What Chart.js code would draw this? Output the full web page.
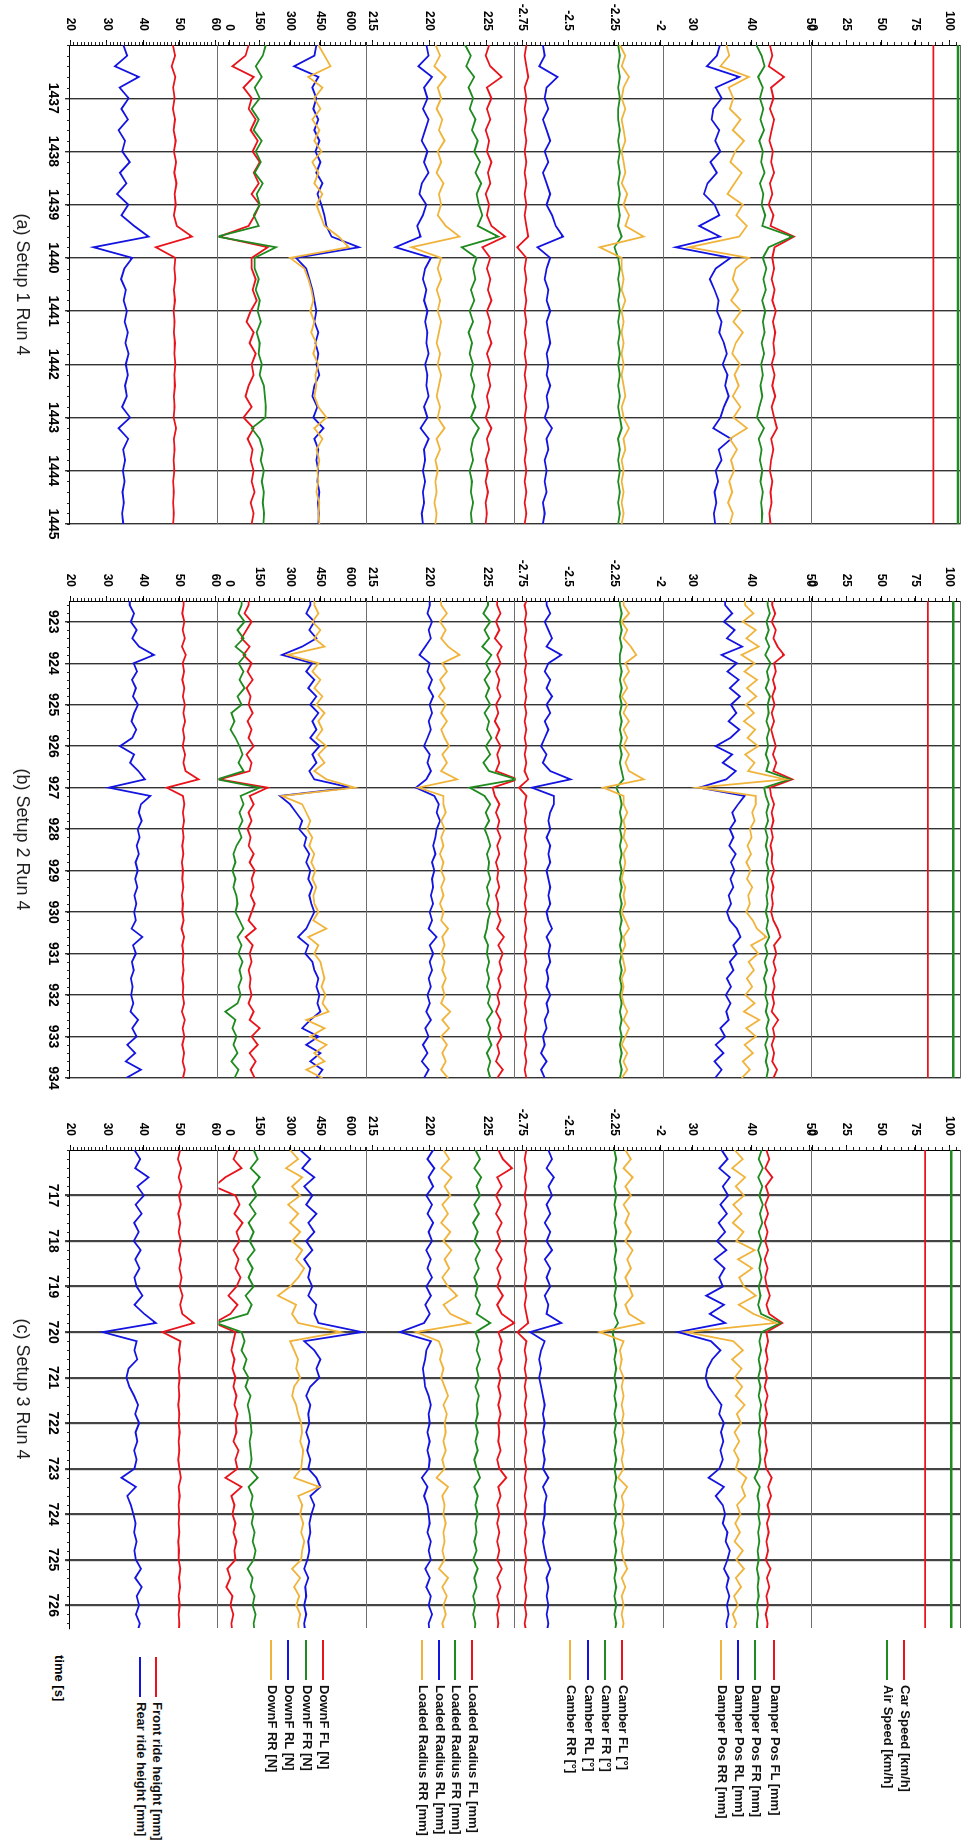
<!DOCTYPE html>
<html>
<head>
<meta charset="utf-8">
<title>Setup runs</title>
<script src="https://cdn.jsdelivr.net/npm/chart.js@4.4.1/dist/chart.umd.min.js"></script>
<style>
  html, body { margin: 0; padding: 0; background: #fff; }
  body { width: 977px; height: 1843px; position: relative; overflow: hidden; font-family: "Liberation Sans", Arial, sans-serif; }
  /* the chart is laid out landscape and turned a quarter clockwise */
  #sheet { position: absolute; left: 0; top: 0; width: 1843px; height: 977px; transform-origin: 0 0; transform: translate(977px, 0) rotate(90deg); }
  .panel { position: absolute; top: 0; }
  .caption { position: absolute; top: 944px; font-size: 18px; color: #222; text-align: center; white-space: nowrap; }
  .lg { position: absolute; height: 16px; line-height: 16px; font-size: 13px; font-weight: bold; color: #111; white-space: nowrap; }
  .lg i { display: inline-block; width: 40px; height: 2px; vertical-align: middle; margin-right: 5px; }
  #timeLabel { position: absolute; left: 1655px; top: 910px; font-size: 13px; font-weight: bold; }
</style>
</head>
<body>
<div id="sheet">
  <div class="panel" style="left:0px"><canvas id="ca" width="546" height="977"></canvas></div>
  <div class="panel" style="left:556px"><canvas id="cb" width="544" height="977"></canvas></div>
  <div class="panel" style="left:1105px"><canvas id="cc" width="545" height="977"></canvas></div>
  <div class="caption" style="left:45px;width:479px">(a) Setup 1 Run 4</div>
  <div class="caption" style="left:601px;width:477px">(b) Setup 2 Run 4</div>
  <div class="caption" style="left:1150px;width:478px">(c) Setup 3 Run 4</div>
  <div id="timeLabel">time [s]</div>
  <div id="legend"></div>
</div>
<script>
// ---- time bases (s) ----
const timeA = [1436,1436.2,1436.4,1436.6,1436.8,1437,1437.2,1437.4,1437.6,1437.8,
  1438,1438.2,1438.4,1438.6,1438.8,1439,1439.2,1439.4,1439.6,1439.8,
  1440,1440.2,1440.4,1440.6,1440.8,1441,1441.2,1441.4,1441.6,1441.8,
  1442,1442.2,1442.4,1442.6,1442.8,1443,1443.2,1443.4,1443.6,1443.8,
  1444,1444.2,1444.4,1444.6,1444.8,1445];
const timeB = [922.5,922.6,922.8,923,923.2,923.4,923.6,923.8,924,924.2,
  924.4,924.6,924.8,925,925.2,925.4,925.6,925.8,926,926.2,
  926.4,926.6,926.8,927,927.2,927.4,927.6,927.8,928,928.2,
  928.4,928.6,928.8,929,929.2,929.4,929.6,929.8,930,930.2,
  930.4,930.6,930.8,931,931.2,931.4,931.6,931.8,932,932.2,
  932.4,932.6,932.8,933,933.2,933.4,933.6,933.8,934];
const timeC = [716,716.2,716.4,716.6,716.8,717,717.2,717.4,717.6,717.8,
  718,718.2,718.4,718.6,718.8,719,719.2,719.4,719.6,719.8,
  720,720.2,720.4,720.6,720.8,721,721.2,721.4,721.6,721.8,
  722,722.2,722.4,722.6,722.8,723,723.2,723.4,723.6,723.8,
  724,724.2,724.4,724.6,724.8,725,725.2,725.4,725.6,725.8,
  726,726.2,726.4,726.6];

const ticksA = [1437,1438,1439,1440,1441,1442,1443,1444,1445];
const ticksB = [923,924,925,926,927,928,929,930,931,932,933,934];
const ticksC = [717,718,719,720,721,722,723,724,725,726];

// ---- value axis tick labels ----
const speedTicks = [0, 25, 50, 75, 100];
const damperTicks = [30, 40, 50];
const camberTicks = [-2.75, -2.5, -2.25, -2];
const radiusTicks = [215, 220, 225];
const downTicks = [0, 150, 300, 450, 600];
const rideTicks = [20, 30, 40, 50, 60];

// ---- setup 1 ----
const carSpeedA = [88,88,88,88,88,88,88,88,88,88,88,88,88,88,88,88,88,88,88,88,88,88,88,88,88,88,88,88,88,88,88,88,88,88,88,88,88,88,88,88,88,88,88,88,88,88];
const airSpeedA = [106,106,106,106,106,106,106,106,106,106,106,106,106,106,106,106,106,106,106,106,106,106,106,106,106,106,106,106,106,106,106,106,106,106,106,106,106,106,106,106,106,106,106,106,106,106];
const damperFL_A = [43.2,43.6,43.0,45.6,43.4,43.8,43.2,43.9,43.5,43.1,
  43.7,43.4,43.9,43.2,43.6,43.0,43.8,43.3,47.3,44.0,
  43.6,43.9,43.5,44.0,43.6,44.2,43.7,44.1,43.8,44.0,
  43.5,44.0,43.6,44.1,43.5,43.9,44.4,43.4,43.8,43.4,
  43.2,43.6,43.3,43.5,43.1,43.3];
const damperFR_A = [40.9,41.8,42.3,41.2,42.0,41.5,42.1,41.6,42.2,41.4,
  42.0,41.7,42.3,41.5,42.1,41.8,42.4,41.9,47.0,43.0,
  42.0,42.6,42.1,42.5,41.9,42.4,42.0,42.3,41.8,42.2,
  41.7,42.0,41.6,41.9,41.4,41.0,42.2,41.3,41.8,41.5,
  41.9,41.6,42.0,41.7,41.9,41.8];
const damperRL_A = [34.7,34.2,32.5,38.0,34.0,35.0,33.6,33.3,34.6,33.9,
  34.8,33.1,34.2,32.6,32.0,33.8,34.6,31.2,34.7,27.2,
  36.5,34.0,33.0,33.8,34.5,34.2,35.0,34.6,35.4,35.9,
  35.2,36.0,35.6,36.2,35.4,34.8,33.6,36.6,34.5,35.0,
  34.0,34.4,33.8,34.1,33.7,33.9];
const damperRR_A = [35.8,36.3,34.8,39.6,36.2,37.0,36.4,38.2,36.9,38.8,
  37.3,36.5,38.4,37.2,36.0,38.6,37.5,39.3,38.0,29.5,
  39.6,37.4,36.9,37.8,36.6,38.3,37.0,38.6,37.4,36.8,
  38.1,37.2,37.9,36.9,38.2,37.0,39.3,36.4,37.6,36.6,
  37.1,36.3,36.8,36.1,36.9,36.4];
const camberFL_A = [-2.73,-2.74,-2.73,-2.72,-2.74,-2.73,-2.74,-2.73,-2.74,-2.73,
  -2.74,-2.73,-2.74,-2.73,-2.74,-2.73,-2.74,-2.73,-2.72,-2.78,
  -2.73,-2.74,-2.73,-2.74,-2.73,-2.74,-2.73,-2.74,-2.73,-2.74,
  -2.73,-2.74,-2.73,-2.74,-2.73,-2.74,-2.73,-2.74,-2.73,-2.74,
  -2.73,-2.74,-2.73,-2.74,-2.73,-2.74];
const camberFR_A = [-2.23,-2.22,-2.23,-2.22,-2.23,-2.22,-2.23,-2.23,-2.22,-2.23,
  -2.22,-2.23,-2.22,-2.23,-2.22,-2.23,-2.22,-2.23,-2.21,-2.25,
  -2.23,-2.22,-2.23,-2.22,-2.23,-2.22,-2.23,-2.22,-2.23,-2.22,
  -2.23,-2.22,-2.23,-2.22,-2.23,-2.22,-2.21,-2.23,-2.22,-2.23,
  -2.22,-2.23,-2.22,-2.23,-2.22,-2.23];
const camberRL_A = [-2.64,-2.63,-2.66,-2.56,-2.62,-2.63,-2.61,-2.64,-2.62,-2.60,
  -2.63,-2.61,-2.64,-2.62,-2.60,-2.62,-2.59,-2.57,-2.53,-2.67,
  -2.60,-2.62,-2.63,-2.61,-2.62,-2.60,-2.62,-2.61,-2.60,-2.62,
  -2.61,-2.62,-2.60,-2.62,-2.61,-2.63,-2.59,-2.62,-2.61,-2.63,
  -2.62,-2.63,-2.62,-2.64,-2.63,-2.64];
const camberRR_A = [-2.22,-2.19,-2.21,-2.17,-2.20,-2.21,-2.19,-2.21,-2.20,-2.19,
  -2.21,-2.20,-2.19,-2.21,-2.18,-2.20,-2.17,-2.19,-2.09,-2.33,
  -2.21,-2.21,-2.20,-2.21,-2.19,-2.21,-2.20,-2.21,-2.20,-2.21,
  -2.20,-2.21,-2.20,-2.19,-2.21,-2.20,-2.17,-2.20,-2.19,-2.21,
  -2.20,-2.21,-2.20,-2.21,-2.20,-2.21];
const radiusFL_A = [225.2,224.9,225.3,226.3,225.0,225.4,225.0,225.3,224.9,225.2,
  225.0,225.4,225.1,225.3,224.9,225.2,225.0,225.4,226.6,224.6,
  225.3,225.0,225.3,225.1,225.4,225.0,225.3,225.1,225.4,225.0,
  225.3,225.1,225.3,225.0,225.2,224.9,225.4,225.0,225.2,224.9,
  225.1,224.9,225.1,224.9,225.0,224.9];
const radiusFR_A = [223.1,223.6,223.2,223.9,223.4,223.8,223.5,224.0,223.7,224.2,
  223.9,224.4,224.0,224.5,224.1,224.3,224.6,224.2,226.0,222.8,
  224.1,223.8,224.0,223.6,223.9,223.5,223.8,223.4,223.7,223.5,
  223.8,223.6,223.9,223.7,224.0,223.6,224.3,223.8,223.6,223.8,
  223.5,223.7,223.6,223.8,223.6,223.7];
const radiusRL_A = [219.7,219.9,219.0,220.2,219.5,219.8,219.4,219.9,219.6,219.3,
  219.8,219.5,219.9,219.3,219.1,219.7,219.4,218.9,219.2,217.0,
  220.1,219.6,219.4,219.7,219.5,219.8,219.6,219.8,219.7,219.9,
  219.6,219.8,219.7,219.9,219.5,219.8,219.2,219.9,219.5,219.6,
  219.4,219.6,219.4,219.5,219.3,219.4];
const radiusRR_A = [220.5,220.9,220.4,221.4,220.7,221.0,220.6,221.1,220.8,221.3,
  220.7,221.0,220.6,221.2,220.8,221.0,220.7,221.4,222.6,218.4,
  221.0,220.7,221.0,220.6,220.9,220.7,221.0,220.8,220.6,220.9,
  220.7,221.0,220.8,220.6,220.9,220.7,221.3,220.6,220.9,220.5,
  220.7,220.5,220.6,220.4,220.6,220.5];
const downFL_A = [95,80,15,120,70,110,95,130,105,140,
  115,150,120,145,110,150,125,95,-50,190,
  110,110,130,115,135,105,85,120,100,130,
  110,120,95,80,110,70,120,90,115,105,
  120,110,125,105,120,110];
const downFR_A = [180,165,130,160,125,150,110,145,120,160,
  130,155,125,165,135,150,120,145,-60,230,
  125,125,145,130,150,140,155,135,150,145,
  160,150,170,175,180,178,110,150,165,155,
  170,160,170,165,172,168];
const downRL_A = [430,420,320,440,410,430,415,440,420,445,
  425,450,430,460,435,455,470,480,505,640,
  330,380,395,410,420,430,420,440,425,440,
  430,445,420,410,435,415,465,420,440,430,
  440,435,445,438,442,440];
const downRR_A = [440,470,500,390,460,420,450,410,445,420,
  455,410,440,420,460,430,450,470,540,590,
  300,370,390,405,415,400,420,405,430,415,
  440,425,430,420,440,480,420,460,430,445,
  435,440,430,445,440,445];
const rideFront_A = [48.2,48.8,47.9,48.9,48.3,48.7,48.2,48.8,48.4,49.0,
  48.5,49.1,48.6,49.2,48.7,49.0,48.5,49.3,53.5,43.5,
  48.9,48.6,48.9,48.5,48.8,48.4,48.7,48.5,48.8,48.6,
  48.9,48.6,48.8,48.5,48.7,48.4,49.1,48.5,48.7,48.4,
  48.6,48.3,48.5,48.3,48.5,48.3];
const rideRear_A = [34.5,35.6,32.2,38.8,33.5,36.0,34.0,35.8,33.2,35.0,
  34.2,36.3,33.6,35.4,32.8,35.9,34.0,37.5,41.5,26.3,
  37.0,34.8,33.9,35.2,34.6,35.5,34.9,35.8,35.1,36.0,
  35.2,35.8,35.0,35.5,34.2,36.4,33.2,35.9,34.5,35.0,
  34.4,34.9,34.3,34.7,34.2,34.5];

// ---- setup 2 ----
const carSpeedB = [84,84,84,84,84,84,84,84,84,84,84,84,84,84,84,84,84,84,84,84,84,84,84,84,84,84,84,84,84,84,84,84,84,84,84,84,84,84,84,84,84,84,84,84,84,84,84,84,84,84,84,84,84,84,84,84,84,84,84];
const airSpeedB = [102.5,102.5,102.5,102.5,102.5,102.5,102.5,102.5,102.5,102.5,102.5,102.5,102.5,102.5,102.5,102.5,102.5,102.5,102.5,102.5,102.5,102.5,102.5,102.5,102.5,102.5,102.5,102.5,102.5,102.5,102.5,102.5,102.5,102.5,102.5,102.5,102.5,102.5,102.5,102.5,102.5,102.5,102.5,102.5,102.5,102.5,102.5,102.5,102.5,102.5,102.5,102.5,102.5,102.5,102.5,102.5,102.5,102.5,102.5];
const damperFL_B = [43.6,43.6,44.1,43.5,44.2,43.8,44.5,45.6,43.9,44.2,
  43.7,44.1,43.6,44.0,43.5,43.9,43.4,43.8,44.2,43.7,
  44.3,43.8,47.0,43.2,43.4,43.9,43.5,43.8,43.4,43.7,
  43.3,43.6,43.5,43.9,43.4,43.8,43.5,43.7,43.4,43.8,
  44.5,45.0,43.9,44.3,43.8,44.2,43.7,44.0,43.6,43.9,
  43.5,44.6,43.7,44.0,43.5,43.9,43.6,44.4,43.8];
const damperFR_B = [42.8,42.8,43.2,42.6,43.0,42.5,43.1,42.4,43.3,42.7,
  43.0,42.5,43.2,42.8,43.0,42.6,43.1,42.7,42.9,42.5,
  43.0,42.6,46.6,42.2,42.5,43.0,42.6,42.9,42.4,42.8,
  42.5,42.9,42.6,43.0,42.7,42.9,42.6,42.8,42.5,42.9,
  42.6,43.1,42.4,42.8,42.3,42.7,42.2,42.6,42.4,42.8,
  42.5,43.0,42.6,42.9,42.4,42.8,42.5,42.9,42.6];
const damperRL_B = [35.6,35.6,36.8,35.4,37.2,35.9,38.5,35.0,37.6,36.0,
  37.9,36.4,38.1,36.6,37.5,36.2,38.0,36.5,34.0,36.8,
  35.2,37.4,35.8,31.2,38.9,37.8,36.8,37.3,36.4,37.0,
  36.3,37.4,36.6,37.2,36.5,37.0,36.2,36.6,35.9,36.4,
  37.6,38.2,37.0,37.6,36.4,37.0,35.9,36.6,35.7,36.5,
  35.8,36.2,34.8,35.6,34.0,35.3,33.8,35.0,33.9];
const damperRR_B = [39.0,39.0,40.4,38.6,40.8,39.2,41.3,38.4,40.6,38.9,
  41.0,39.3,40.9,39.1,40.5,38.8,40.7,39.4,41.2,39.0,
  40.6,39.5,45.8,31.0,40.8,40.8,40.2,40.6,39.8,40.1,
  39.4,40.0,39.2,39.9,39.3,40.2,39.5,39.8,39.2,40.3,
  41.0,42.6,40.0,41.2,39.6,40.5,39.3,40.2,39.0,40.6,
  38.8,41.4,39.2,40.8,38.9,40.3,38.6,39.8,38.4];
const camberFL_B = [-2.73,-2.74,-2.73,-2.74,-2.73,-2.74,-2.73,-2.74,-2.73,-2.74,
  -2.73,-2.74,-2.73,-2.74,-2.73,-2.74,-2.73,-2.74,-2.73,-2.74,
  -2.73,-2.74,-2.72,-2.77,-2.73,-2.74,-2.73,-2.74,-2.73,-2.74,
  -2.73,-2.74,-2.73,-2.74,-2.73,-2.74,-2.73,-2.74,-2.73,-2.74,
  -2.73,-2.74,-2.73,-2.74,-2.73,-2.74,-2.73,-2.74,-2.73,-2.74,
  -2.73,-2.74,-2.73,-2.74,-2.73,-2.74,-2.73,-2.74,-2.73];
const camberFR_B = [-2.22,-2.22,-2.21,-2.22,-2.21,-2.22,-2.21,-2.22,-2.22,-2.21,
  -2.22,-2.21,-2.22,-2.21,-2.22,-2.21,-2.22,-2.21,-2.22,-2.21,
  -2.22,-2.21,-2.20,-2.24,-2.22,-2.21,-2.22,-2.21,-2.22,-2.21,
  -2.22,-2.21,-2.22,-2.21,-2.22,-2.21,-2.22,-2.21,-2.22,-2.21,
  -2.22,-2.21,-2.22,-2.21,-2.22,-2.21,-2.22,-2.21,-2.22,-2.21,
  -2.22,-2.21,-2.22,-2.21,-2.22,-2.21,-2.22,-2.21,-2.22];
const camberRL_B = [-2.62,-2.62,-2.60,-2.63,-2.61,-2.59,-2.62,-2.54,-2.61,-2.63,
  -2.60,-2.62,-2.59,-2.62,-2.60,-2.63,-2.61,-2.63,-2.65,-2.62,
  -2.64,-2.60,-2.49,-2.70,-2.58,-2.58,-2.60,-2.61,-2.60,-2.62,
  -2.60,-2.61,-2.60,-2.62,-2.61,-2.60,-2.61,-2.60,-2.62,-2.61,
  -2.59,-2.62,-2.60,-2.61,-2.60,-2.62,-2.61,-2.62,-2.60,-2.62,
  -2.61,-2.63,-2.62,-2.64,-2.63,-2.65,-2.62,-2.65,-2.63];
const camberRR_B = [-2.20,-2.20,-2.17,-2.21,-2.18,-2.20,-2.16,-2.13,-2.19,-2.17,
  -2.20,-2.18,-2.21,-2.18,-2.20,-2.17,-2.20,-2.18,-2.20,-2.17,
  -2.19,-2.17,-2.09,-2.31,-2.20,-2.20,-2.18,-2.20,-2.19,-2.20,
  -2.18,-2.20,-2.19,-2.20,-2.21,-2.19,-2.20,-2.19,-2.21,-2.19,
  -2.17,-2.20,-2.19,-2.21,-2.20,-2.19,-2.21,-2.20,-2.21,-2.20,
  -2.18,-2.20,-2.17,-2.19,-2.21,-2.18,-2.20,-2.18,-2.21];
const radiusFL_B = [225.9,225.9,226.2,225.8,226.1,225.7,226.3,225.9,226.2,225.8,
  226.1,225.9,226.2,225.8,226.0,225.7,226.1,225.8,226.2,225.9,
  226.1,225.8,227.7,225.5,225.7,226.1,225.8,226.1,225.9,226.2,
  225.9,226.1,225.8,226.0,225.9,226.1,225.8,226.0,225.9,226.2,
  225.9,226.5,226.0,226.4,226.1,226.3,226.0,226.2,225.9,226.1,
  225.8,226.2,226.0,226.3,225.9,226.1,225.8,226.4,225.9];
const radiusFR_B = [225.1,225.1,224.7,225.3,224.8,225.2,224.6,225.4,224.9,225.3,
  224.8,225.2,224.9,225.3,224.8,225.2,225.0,225.4,224.9,225.3,
  224.7,225.2,227.6,223.5,224.8,225.3,224.9,225.2,224.8,225.1,
  225.3,225.0,225.2,225.1,225.3,225.0,225.2,225.0,225.3,225.1,
  225.0,224.8,225.1,225.0,225.2,225.0,225.2,225.0,225.3,225.1,
  225.5,225.0,225.3,225.1,225.4,225.0,225.3,225.1,225.3];
const radiusRL_B = [220.0,220.0,219.8,220.2,219.9,220.1,219.6,219.1,220.0,219.8,
  220.2,219.9,220.3,220.0,220.2,219.9,220.1,219.8,219.5,220.0,
  219.8,220.1,219.7,218.8,220.4,220.8,220.6,220.9,220.6,220.5,
  220.3,220.5,220.2,220.4,220.2,220.3,220.1,220.3,220.0,220.2,
  219.9,220.6,220.0,220.3,220.0,220.2,219.9,220.1,219.8,220.0,
  219.7,220.1,219.6,219.9,219.4,219.8,219.3,219.9,219.5];
const radiusRR_B = [221.0,221.0,221.5,220.9,221.4,221.0,221.6,222.6,221.1,221.5,
  220.9,221.3,220.8,221.4,221.0,221.5,221.0,221.3,221.7,221.1,
  221.5,221.0,222.4,219.0,221.2,221.2,221.4,221.0,221.3,221.0,
  221.2,220.9,221.2,221.0,221.3,221.0,221.2,220.9,221.2,221.0,
  221.6,221.1,221.3,221.0,221.3,221.1,221.4,221.1,221.3,221.0,
  221.8,221.1,221.7,221.0,221.5,221.1,221.4,221.0,221.6];
const downFL_B = [95,95,75,110,85,60,100,70,110,90,
  115,85,105,95,115,90,110,95,120,85,
  110,100,-50,190,100,120,95,110,90,105,
  95,120,100,125,110,120,105,125,110,95,
  130,80,115,100,110,95,105,100,110,95,
  120,100,150,110,140,100,130,105,125];
const downFR_B = [60,60,45,75,40,70,30,80,45,70,
  50,75,40,60,10,25,5,30,50,65,
  45,70,-60,150,55,70,50,65,45,60,
  35,20,30,15,30,20,35,40,30,50,
  70,40,60,45,65,50,60,45,55,40,
  -20,30,15,35,20,40,10,45,25];
const downRL_B = [400,400,380,420,395,430,360,260,410,380,
  420,390,430,400,440,410,430,400,445,410,
  430,395,420,600,250,300,330,360,345,380,
  370,395,380,400,390,410,395,405,420,400,
  380,340,390,375,410,420,440,430,445,435,
  450,400,360,440,380,450,400,460,430];
const downRR_B = [420,420,440,410,450,420,470,290,440,410,
  450,420,460,430,470,440,460,430,480,440,
  470,420,480,620,260,360,380,400,385,410,
  395,420,405,425,410,430,415,420,440,415,
  480,390,440,420,450,460,470,455,475,460,
  490,380,470,400,480,420,470,380,460];
const rideFront_B = [51.2,51.2,50.8,51.4,50.9,51.5,50.7,51.8,50.9,51.3,
  50.8,51.4,51.0,51.5,51.1,51.6,51.0,51.4,50.9,51.6,
  51.1,51.7,55.3,46.5,51.0,51.4,51.0,51.3,50.9,51.2,
  50.8,51.1,50.7,51.0,50.8,51.1,50.7,51.0,50.8,51.2,
  50.6,51.3,50.8,51.1,50.9,51.2,50.8,51.1,50.9,51.3,
  50.7,51.5,50.9,51.4,50.8,51.3,50.9,51.5,51.0];
const rideRear_B = [36.3,36.3,37.5,36.6,38.2,37.0,38.9,43.0,37.4,38.3,
  36.9,38.0,37.2,38.6,37.5,36.8,38.1,37.0,33.6,37.5,
  36.4,38.7,40.5,30.5,42.0,39.4,38.8,39.6,38.5,39.0,
  38.2,38.8,37.9,38.5,37.8,38.4,37.6,38.1,37.5,38.0,
  36.8,39.8,37.2,38.0,36.9,37.4,36.6,37.1,36.7,37.3,
  36.5,38.6,37.0,38.2,35.6,37.8,35.2,39.4,35.3];

// ---- setup 3 ----
const carSpeedC = [82,82,82,82,82,82,82,82,82,82,82,82,82,82,82,82,82,82,82,82,82,82,82,82,82,82,82,82,82,82,82,82,82,82,82,82,82,82,82,82,82,82,82,82,82,82,82,82,82,82,82,82,82,82];
const airSpeedC = [101,101,101,101,101,101,101,101,101,101,101,101,101,101,101,101,101,101,101,101,101,101,101,101,101,101,101,101,101,101,101,101,101,101,101,101,101,101,101,101,101,101,101,101,101,101,101,101,101,101,101,101,101,101];
const damperFL_C = [42.6,43.1,42.4,43.6,42.5,43.0,42.4,42.9,42.3,42.8,
  42.4,42.9,42.3,42.8,42.4,42.7,43.2,42.6,43.1,45.3,
  42.6,42.9,42.5,42.8,42.4,42.7,42.3,42.8,42.4,42.7,
  42.3,42.6,42.4,42.7,42.3,42.6,43.5,42.9,43.4,42.8,
  43.2,42.7,43.0,42.6,42.9,42.5,43.3,42.7,43.1,42.6,
  42.9,42.5,42.8,42.6];
const damperFR_C = [41.8,41.3,42.0,41.2,41.9,41.4,42.0,41.5,41.9,41.3,
  41.8,41.2,41.7,41.4,41.8,41.3,41.6,41.2,41.7,45.0,
  41.8,41.4,41.7,41.3,41.6,41.2,41.6,41.3,41.7,41.4,
  41.6,41.3,41.6,41.4,41.6,41.3,40.6,41.5,41.1,41.4,
  41.2,41.5,41.2,41.4,41.1,41.3,41.0,41.3,41.1,41.3,
  41.0,41.2,41.0,41.1];
const damperRL_C = [35.0,36.0,34.6,36.4,35.2,36.1,34.8,35.9,34.5,35.6,
  34.2,35.8,33.8,35.5,34.6,35.2,32.4,35.4,33.0,35.6,
  27.6,33.2,34.8,33.4,32.6,32.3,32.8,33.9,35.0,34.6,
  35.4,34.9,35.3,34.8,35.2,34.6,32.8,35.4,34.0,35.2,
  35.6,35.2,36.0,35.7,36.4,36.0,35.4,36.2,35.8,36.3,
  35.9,36.2,35.8,36.0];
const damperRR_C = [37.2,38.6,36.8,39.0,37.4,38.8,37.0,38.4,36.9,38.7,
  37.5,40.6,37.8,40.2,38.0,38.8,40.8,37.9,40.4,44.2,
  29.0,37.0,38.6,36.8,38.4,37.2,38.5,37.4,38.9,37.6,
  38.3,37.2,38.0,37.1,37.9,37.4,39.2,38.4,39.0,37.6,
  38.2,37.3,38.1,37.2,38.6,37.5,38.8,37.4,38.3,37.1,
  37.8,36.9,37.5,36.8];
const camberFL_C = [-2.73,-2.74,-2.73,-2.74,-2.73,-2.74,-2.73,-2.74,-2.73,-2.74,
  -2.73,-2.74,-2.73,-2.74,-2.73,-2.74,-2.73,-2.74,-2.73,-2.72,
  -2.78,-2.73,-2.74,-2.73,-2.74,-2.73,-2.74,-2.73,-2.74,-2.73,
  -2.74,-2.73,-2.74,-2.73,-2.74,-2.73,-2.74,-2.73,-2.74,-2.73,
  -2.74,-2.73,-2.74,-2.73,-2.74,-2.73,-2.74,-2.73,-2.74,-2.73,
  -2.74,-2.73,-2.74,-2.73];
const camberFR_C = [-2.25,-2.24,-2.25,-2.24,-2.25,-2.24,-2.25,-2.24,-2.25,-2.24,
  -2.25,-2.24,-2.25,-2.24,-2.25,-2.24,-2.25,-2.24,-2.25,-2.23,
  -2.26,-2.25,-2.24,-2.25,-2.24,-2.25,-2.24,-2.25,-2.24,-2.25,
  -2.24,-2.25,-2.24,-2.25,-2.24,-2.25,-2.24,-2.25,-2.24,-2.25,
  -2.24,-2.25,-2.24,-2.25,-2.24,-2.25,-2.24,-2.25,-2.24,-2.25,
  -2.24,-2.25,-2.24,-2.25];
const camberRL_C = [-2.61,-2.59,-2.62,-2.58,-2.61,-2.59,-2.62,-2.60,-2.63,-2.60,
  -2.62,-2.59,-2.63,-2.60,-2.62,-2.60,-2.63,-2.61,-2.62,-2.54,
  -2.71,-2.63,-2.65,-2.66,-2.65,-2.66,-2.65,-2.64,-2.63,-2.64,
  -2.63,-2.64,-2.63,-2.64,-2.63,-2.64,-2.61,-2.64,-2.62,-2.63,
  -2.63,-2.64,-2.63,-2.64,-2.63,-2.62,-2.60,-2.62,-2.61,-2.62,
  -2.61,-2.62,-2.61,-2.62];
const camberRR_C = [-2.19,-2.16,-2.20,-2.15,-2.19,-2.16,-2.20,-2.17,-2.19,-2.16,
  -2.19,-2.15,-2.18,-2.16,-2.19,-2.17,-2.15,-2.19,-2.17,-2.09,
  -2.33,-2.20,-2.22,-2.21,-2.22,-2.20,-2.21,-2.20,-2.21,-2.20,
  -2.21,-2.20,-2.21,-2.20,-2.21,-2.20,-2.23,-2.18,-2.21,-2.20,
  -2.21,-2.20,-2.21,-2.20,-2.21,-2.20,-2.18,-2.21,-2.19,-2.21,
  -2.20,-2.21,-2.20,-2.21];
const radiusFL_C = [226.0,226.4,227.2,225.9,226.3,225.8,226.2,225.8,226.3,225.9,
  226.2,225.8,226.3,225.9,226.2,225.9,226.4,225.9,226.3,227.4,
  226.0,226.3,226.1,226.3,226.0,226.2,226.0,226.2,226.0,226.2,
  226.0,226.1,226.0,226.2,225.9,226.1,226.7,226.0,226.2,225.9,
  226.1,225.9,226.1,225.9,226.1,225.9,226.3,225.9,226.2,225.9,
  226.1,225.9,226.0,225.9];
const radiusFR_C = [224.0,224.4,223.9,224.5,224.1,224.4,223.9,224.3,223.8,224.2,
  223.9,224.4,224.0,224.3,223.9,224.2,224.0,224.4,224.1,225.3,
  224.0,224.3,224.1,224.4,224.1,224.3,224.0,224.3,224.1,224.2,
  224.0,224.2,224.0,224.2,223.9,224.1,224.4,223.9,224.2,224.0,
  224.2,224.0,224.1,223.9,224.1,223.8,224.2,223.9,224.1,223.8,
  224.0,223.8,224.0,223.9];
const radiusRL_C = [220.3,219.8,220.4,219.9,220.3,219.7,220.2,219.8,220.3,219.9,
  220.2,219.7,220.1,219.8,220.2,219.7,220.1,219.6,220.0,219.5,
  217.4,220.1,219.7,219.6,219.4,219.5,219.6,219.9,220.1,219.9,
  220.0,219.8,220.0,219.8,220.0,219.9,219.3,219.8,219.5,219.8,
  219.9,220.0,219.8,220.1,219.9,220.1,219.6,220.0,219.7,220.1,
  219.9,220.2,219.9,220.0];
const radiusRR_C = [221.2,221.7,221.0,221.9,221.3,221.8,221.1,221.6,221.0,221.8,
  221.2,221.9,221.3,221.7,221.1,221.6,222.4,221.2,221.8,223.5,
  218.8,220.8,221.1,220.9,221.2,221.0,221.3,221.6,221.2,221.5,
  221.3,221.4,221.2,221.4,221.1,221.3,220.6,221.6,221.1,221.3,
  221.2,221.4,221.2,221.3,221.1,221.3,220.8,221.6,221.1,221.5,
  221.2,221.4,221.1,221.3];
const downFL_C = [40,20,60,-20,-75,30,50,25,65,35,
  50,20,45,30,55,35,-5,40,5,-75,
  30,20,10,25,15,30,20,35,25,40,
  30,35,20,45,30,40,-20,60,10,25,
  15,30,20,35,25,30,-10,5,-15,15,
  5,20,10,15];
const downFR_C = [120,140,105,150,115,135,100,130,95,120,
  100,125,90,115,95,120,80,110,90,-65,
  60,75,60,85,70,95,80,105,90,100,
  105,110,100,105,110,100,140,95,115,105,
  120,110,125,115,130,120,90,115,105,125,
  115,130,120,125];
const downRL_C = [350,400,360,420,370,410,380,430,390,420,
  380,410,370,400,390,410,390,430,420,440,
  655,370,420,450,430,445,400,380,400,390,
  395,380,395,385,400,390,430,450,400,420,
  405,395,400,390,395,385,370,390,375,380,
  370,380,370,375];
const downRR_C = [300,340,280,360,310,350,290,340,300,350,
  310,360,330,370,340,300,240,330,310,340,
  550,300,320,340,330,350,320,310,330,340,
  355,360,350,365,360,355,320,445,340,360,
  350,365,355,370,360,355,310,350,320,345,
  330,350,340,345];
const rideFront_C = [50.2,49.6,50.5,49.8,50.6,49.9,50.4,49.7,50.3,49.8,
  50.4,49.9,50.5,50.0,50.6,50.1,50.9,50.2,50.8,54.0,
  45.3,50.3,49.9,50.2,49.8,50.1,49.8,50.0,49.7,50.0,
  49.8,50.1,49.8,50.0,49.7,50.0,50.4,49.8,50.1,49.8,
  50.0,49.8,50.0,49.7,49.9,49.8,50.3,49.9,50.2,49.8,
  50.1,49.8,50.0,49.8];
const rideRear_C = [37.6,39.2,37.8,41.5,38.4,40.2,37.9,39.6,37.5,38.8,
  37.4,39.3,37.8,39.0,37.6,38.2,39.8,37.6,40.3,43.5,
  28.8,38.2,37.6,38.4,36.0,35.4,36.2,37.5,38.6,37.8,
  38.9,37.9,38.4,37.5,38.2,37.6,34.0,38.0,35.6,36.6,
  37.3,37.9,37.5,38.2,37.6,38.0,39.4,37.8,39.6,38.2,
  38.9,38.0,39.1,38.3];

// ---- styling ----
const FONT = '"Liberation Sans", Arial, sans-serif';
const RED = '#e8141c', GREEN = '#1f8a1f', BLUE = '#1414e0', GOLD = '#f0b43c';

// value strips, top to bottom of the landscape sheet
const valueAxes = [
  { id: 'sp', min: 0, max: 108, ticks: speedTicks, minor: 5 },
  { id: 'dm', min: 25.2, max: 50.4, ticks: damperTicks, minor: 1 },
  { id: 'cb', min: -2.79, max: -1.98, ticks: camberTicks, minor: 0.025 },
  { id: 'lr', min: 214.5, max: 227.5, ticks: radiusTicks, minor: 0.5 },
  { id: 'df', min: -54, max: 680, ticks: downTicks, minor: 25 },
  { id: 'rh', min: 19.8, max: 60.8, ticks: rideTicks, minor: 1 }
];

const stripFrame = {
  id: 'stripFrame',
  beforeDatasetsDraw(chart) {
    const { ctx, chartArea: a, scales } = chart;
    ctx.save();
    ctx.strokeStyle = '#6e6e6e';
    ctx.lineWidth = 1;
    ctx.beginPath();
    valueAxes.slice(1).forEach(ax => {
      const y = Math.round(scales[ax.id].top) + 0.5;
      ctx.moveTo(a.left, y);
      ctx.lineTo(a.right, y);
    });
    ctx.stroke();
    ctx.strokeStyle = '#666';
    ctx.beginPath();
    ctx.moveTo(a.left, Math.round(a.top) + 0.5);
    ctx.lineTo(a.right, Math.round(a.top) + 0.5);
    ctx.stroke();
    ctx.restore();
  },
  afterDraw(chart) {
    const { ctx, chartArea: a, scales } = chart;
    ctx.save();
    ctx.strokeStyle = '#222';
    ctx.lineWidth = 1;
    ctx.beginPath();
    valueAxes.forEach(ax => {
      const s = scales[ax.id];
      for (let k = Math.ceil(s.min / ax.minor - 1e-6); k * ax.minor <= s.max + 1e-6; k++) {
        const y = Math.round(s.getPixelForValue(k * ax.minor)) + 0.5;
        ctx.moveTo(a.left - 3, y);
        ctx.lineTo(a.left, y);
      }
    });
    const xs = scales.x;
    for (let k = Math.ceil(xs.min / 0.2 - 1e-6); k * 0.2 <= xs.max + 1e-6; k++) {
      const x = Math.round(xs.getPixelForValue(k * 0.2)) + 0.5;
      ctx.moveTo(x, a.bottom);
      ctx.lineTo(x, a.bottom + 3);
    }
    ctx.stroke();
    ctx.restore();
  }
};

function line(t, values, axis, color, width) {
  return {
    data: t.map((x, i) => ({ x: x, y: values[i] })),
    yAxisID: axis, borderColor: color, borderWidth: width || 1.8,
    pointRadius: 0, tension: 0, fill: false
  };
}

function drawPanel(p) {
  const t = p.t;
  const datasets = [
    line(t, p.air, 'sp', GREEN, 2.6), line(t, p.car, 'sp', RED, 1.8),
    line(t, p.damper[3], 'dm', GOLD), line(t, p.damper[2], 'dm', BLUE), line(t, p.damper[1], 'dm', GREEN), line(t, p.damper[0], 'dm', RED),
    line(t, p.camber[3], 'cb', GOLD), line(t, p.camber[2], 'cb', BLUE), line(t, p.camber[1], 'cb', GREEN), line(t, p.camber[0], 'cb', RED),
    line(t, p.radius[3], 'lr', GOLD), line(t, p.radius[2], 'lr', BLUE), line(t, p.radius[1], 'lr', GREEN), line(t, p.radius[0], 'lr', RED),
    line(t, p.down[3], 'df', GOLD), line(t, p.down[2], 'df', BLUE), line(t, p.down[1], 'df', GREEN), line(t, p.down[0], 'df', RED),
    line(t, p.rear, 'rh', BLUE), line(t, p.front, 'rh', RED)
  ];

  const scales = {
    x: {
      type: 'linear', position: 'bottom', min: p.xMin, max: p.xMax,
      afterBuildTicks: ax => { ax.ticks = p.xTicks.map(v => ({ value: v })); },
      afterFit: ax => { ax.height = 64; },
      ticks: { autoSkip: false, maxRotation: 0, padding: 4, color: '#000',
        font: { family: FONT, size: 14, weight: 'bold' }, callback: v => String(v) },
      grid: { color: p.gridColor, lineWidth: p.gridWidth, tickLength: 5 },
      border: { color: '#000', width: 1 }
    }
  };
  valueAxes.forEach((ax, k) => {
    scales[ax.id] = {
      type: 'linear', position: 'left', stack: 'strips', stackWeight: 1, weight: valueAxes.length - k,
      min: ax.min, max: ax.max,
      afterBuildTicks: s => { s.ticks = ax.ticks.map(v => ({ value: v })); },
      afterFit: s => { s.width = 45; },
      ticks: { autoSkip: false, padding: 9, color: '#000',
        font: { family: FONT, size: 12, weight: 'bold' }, callback: v => String(v) },
      grid: { drawOnChartArea: false, tickLength: 5, color: '#000' },
      border: { color: '#000', width: 1 }
    };
  });

  new Chart(document.getElementById(p.canvas), {
    type: 'line',
    data: { datasets: datasets },
    options: {
      responsive: false, animation: false, events: [],
      layout: { padding: { left: 0, right: 22, top: 6, bottom: 6 } },
      plugins: { legend: { display: false }, tooltip: { enabled: false } },
      scales: scales
    },
    plugins: [stripFrame]
  });
}

drawPanel({ canvas: 'ca', t: timeA, xMin: 1436, xMax: 1445, xTicks: ticksA, gridColor: '#333', gridWidth: 1.4,
  car: carSpeedA, air: airSpeedA,
  damper: [damperFL_A, damperFR_A, damperRL_A, damperRR_A],
  camber: [camberFL_A, camberFR_A, camberRL_A, camberRR_A],
  radius: [radiusFL_A, radiusFR_A, radiusRL_A, radiusRR_A],
  down: [downFL_A, downFR_A, downRL_A, downRR_A],
  front: rideFront_A, rear: rideRear_A });
drawPanel({ canvas: 'cb', t: timeB, xMin: 922.5, xMax: 934, xTicks: ticksB, gridColor: '#333', gridWidth: 1.4,
  car: carSpeedB, air: airSpeedB,
  damper: [damperFL_B, damperFR_B, damperRL_B, damperRR_B],
  camber: [camberFL_B, camberFR_B, camberRL_B, camberRR_B],
  radius: [radiusFL_B, radiusFR_B, radiusRL_B, radiusRR_B],
  down: [downFL_B, downFR_B, downRL_B, downRR_B],
  front: rideFront_B, rear: rideRear_B });
drawPanel({ canvas: 'cc', t: timeC, xMin: 716, xMax: 726.5, xTicks: ticksC, gridColor: '#444', gridWidth: 2.2,
  car: carSpeedC, air: airSpeedC,
  damper: [damperFL_C, damperFR_C, damperRL_C, damperRR_C],
  camber: [camberFL_C, camberFR_C, camberRL_C, camberRR_C],
  radius: [radiusFL_C, radiusFR_C, radiusRL_C, radiusRR_C],
  down: [downFL_C, downFR_C, downRL_C, downRR_C],
  front: rideFront_C, rear: rideRear_C });

// ---- legend (one group per strip) ----
const legendGroups = [
  { x: 1640, rows: [72, 89], names: ['Car Speed [km/h]', 'Air Speed [km/h]'], colors: [RED, GREEN] },
  { x: 1640, rows: [202, 221, 238, 255], names: ['Damper Pos FL [mm]', 'Damper Pos FR [mm]', 'Damper Pos RL [mm]', 'Damper Pos RR [mm]'], colors: [RED, GREEN, BLUE, GOLD] },
  { x: 1640, rows: [354, 371, 388, 406], names: ['Camber FL [°]', 'Camber FR [°]', 'Camber RL [°]', 'Camber RR [°]'], colors: [RED, GREEN, BLUE, GOLD] },
  { x: 1640, rows: [504, 521, 537, 554], names: ['Loaded Radius FL [mm]', 'Loaded Radius FR [mm]', 'Loaded Radius RL [mm]', 'Loaded Radius RR [mm]'], colors: [RED, GREEN, BLUE, GOLD] },
  { x: 1640, rows: [653, 670, 688, 705], names: ['DownF FL [N]', 'DownF FR [N]', 'DownF RL [N]', 'DownF RR [N]'], colors: [RED, GREEN, BLUE, GOLD] },
  { x: 1657, rows: [820, 836], names: ['Front ride height [mm]', 'Rear ride height [mm]'], colors: [RED, BLUE] }
];
const legend = document.getElementById('legend');
legendGroups.forEach(g => {
  g.rows.forEach((row, i) => {
    const d = document.createElement('div');
    d.className = 'lg';
    d.style.left = g.x + 'px';
    d.style.top = (row - 8) + 'px';
    const sw = document.createElement('i');
    sw.style.background = g.colors[i];
    d.appendChild(sw);
    d.appendChild(document.createTextNode(g.names[i]));
    legend.appendChild(d);
  });
});
</script>
</body>
</html>
